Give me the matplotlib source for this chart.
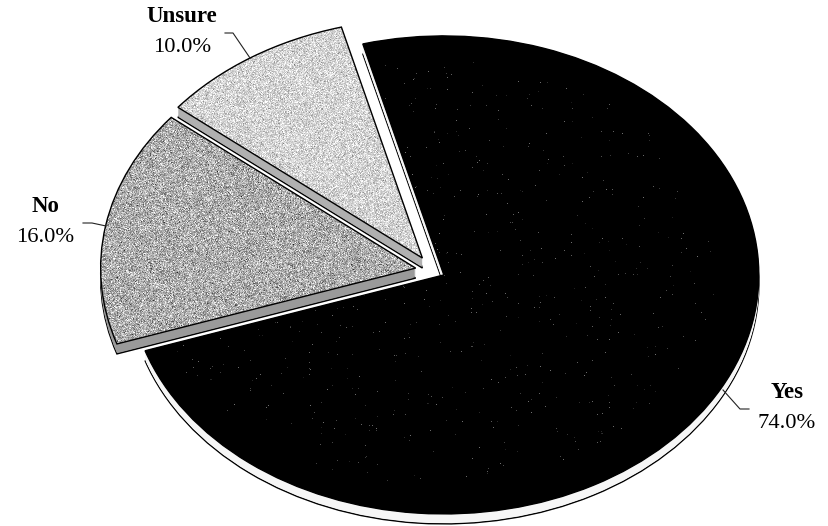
import numpy as np
import matplotlib
matplotlib.use("Agg")
import matplotlib.pyplot as plt
from matplotlib.lines import Line2D

# Survey responses
categories = ["Yes", "No", "Unsure"]
shares = [74.0, 16.0, 10.0]
value_labels = ["74.0%", "16.0%", "10.0%"]

explode = [0.039, 0.056, 0.062]
top_colors = ["#000000", "#a9a9a9", "#d0d0d0"]
side_colors = ["#f6f6f6", "#9a9a9a", "#b0b0b0"]
grain_means = [0.0, 0.68, 0.83]
grain_spread = [0.0, 0.14, 0.10]
slice_z = [10, 30, 20]

W, H = 829, 526
CX, CY, RX, RY = 433.0, 270.5, 315.0, 239.0
DEPTH_PX = 10

plt.rcParams["font.family"] = ["Liberation Serif", "DejaVu Serif"]

fig = plt.figure(figsize=(W / 100, H / 100), dpi=100, facecolor="white")
ax = fig.add_axes([0, 0, 1, 1])
xlim = (-CX / RX, (W - CX) / RX)
ylim = ((CY - H) / RY, CY / RY)


def draw_layer(drop_px, colors, edge, lw, z_offset):
    """Draw the three slices once, lowered by drop_px to build the thickness."""
    wedges, _ = ax.pie(
        shares,
        explode=explode,
        colors=colors,
        startangle=104.9,
        counterclock=False,
        radius=1.0,
        center=(0, -drop_px / RY),
        wedgeprops={"edgecolor": edge, "linewidth": lw},
    )
    for wedge, z in zip(wedges, slice_z):
        wedge.set_zorder(z + z_offset)
    return wedges


# Side walls: outlined base first, then filled layers up to the top face
draw_layer(DEPTH_PX, side_colors, "black", 1.0, 0)
for drop in range(DEPTH_PX - 1, 0, -1):
    draw_layer(drop, side_colors, "none", 0, 1)

top_faces = draw_layer(0, top_colors, "none", 0, 2)

# Printed stipple on the top faces; the black slice only has faint specks near its middle
rng = np.random.default_rng(7)
yy, xx = np.mgrid[0:H, 0:W]
inner = ((xx - CX) / RX) ** 2 + ((yy - CY) / RY) ** 2 < 0.8
for wedge, z, mean, spread in zip(top_faces, slice_z, grain_means, grain_spread):
    if spread > 0:
        grain = np.clip(rng.normal(mean, spread, (H, W)), 0, 1)
    else:
        grain = (rng.random((H, W)) < 0.004) * inner * rng.uniform(0.1, 0.45, (H, W))
    image = ax.imshow(
        grain,
        cmap="gray",
        vmin=0,
        vmax=1,
        extent=(xlim[0], xlim[1], ylim[0], ylim[1]),
        aspect="auto",
        interpolation="nearest",
        zorder=z + 3,
    )
    image.set_clip_path(wedge)

draw_layer(0, ["none"] * 3, "black", 1.0, 4)

ax.set_xlim(xlim)
ax.set_ylim(ylim)
ax.set_aspect("auto")
ax.axis("off")


def px(x, y):
    return x / W, 1 - y / H


# Category names and percentages beside each slice
label_spots = {"Yes": (787, 392, 423), "No": (45, 206, 237), "Unsure": (182, 17, 47)}
for name, value in zip(categories, value_labels):
    x, y_name, y_value = label_spots[name]
    fig.text(*px(x, y_name), name, ha="center", va="center",
             fontsize=16.5, fontweight="bold", color="black")
    fig.text(*px(x, y_value), value, ha="center", va="center",
             fontsize=16.2, color="black")

# Leader lines from the labels to the slices
leaders = [
    [(225, 33), (233, 33), (250, 58)],
    [(83, 223), (92, 223), (106, 226)],
    [(723, 390), (740, 409), (749, 409)],
]
for leader in leaders:
    pts = [px(*p) for p in leader]
    fig.add_artist(Line2D([p[0] for p in pts], [p[1] for p in pts],
                          transform=fig.transFigure, color="#222222", lw=0.8))

fig.savefig("out.png", dpi=100, facecolor="white")
